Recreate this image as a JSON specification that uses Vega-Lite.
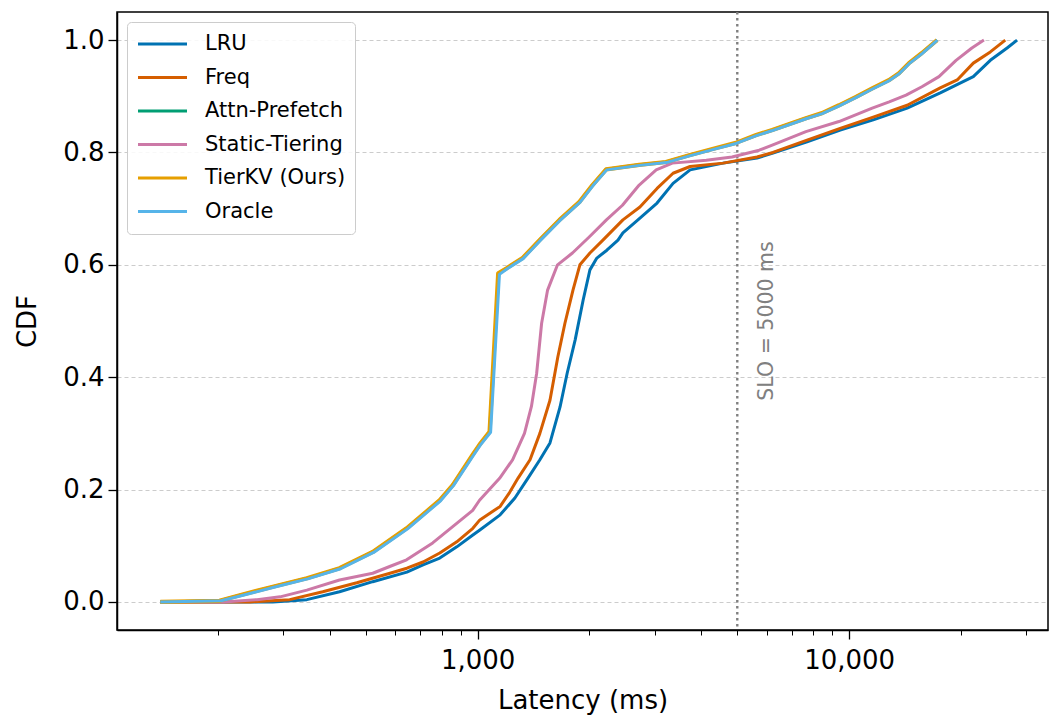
{
  "$schema": "https://vega.github.io/schema/vega-lite/v6.json",
  "width": 931,
  "height": 618,
  "autosize": {"type": "none"},
  "padding": {"left": 117, "top": 12, "right": 2, "bottom": 87},
  "background": "white",
  "config": {
    "font": "DejaVu Sans",
    "view": {"stroke": "black", "strokeWidth": 1.5},
    "axis": {
      "domainColor": "black", "domainWidth": 1.5, "tickColor": "black", "tickWidth": 1.3,
      "labelColor": "black", "titleColor": "black", "labelFont": "DejaVu Sans", "titleFont": "DejaVu Sans",
      "labelFontSize": 26, "titleFontSize": 26, "titleFontWeight": "normal"
    },
    "legend": {
      "orient": "top-left", "offset": 10, "symbolType": "stroke", "symbolSize": 2401,
      "symbolStrokeWidth": 3.2, "labelFontSize": 21, "labelFont": "DejaVu Sans", "labelColor": "black",
      "padding": 9, "rowPadding": 7.5, "clipHeight": 26, "labelOffset": 16,
      "strokeColor": "#cccccc", "fillColor": "rgba(255,255,255,0.85)", "cornerRadius": 4
    }
  },
  "datasets": {
    "cdf": [
      {"series": "LRU", "latency": 140, "cdf": 0},
      {"series": "LRU", "latency": 281, "cdf": 0.0},
      {"series": "LRU", "latency": 347, "cdf": 0.004},
      {"series": "LRU", "latency": 425, "cdf": 0.018},
      {"series": "LRU", "latency": 522, "cdf": 0.036},
      {"series": "LRU", "latency": 645, "cdf": 0.053},
      {"series": "LRU", "latency": 713, "cdf": 0.066},
      {"series": "LRU", "latency": 791, "cdf": 0.078},
      {"series": "LRU", "latency": 879, "cdf": 0.098},
      {"series": "LRU", "latency": 971, "cdf": 0.119},
      {"series": "LRU", "latency": 1014, "cdf": 0.128},
      {"series": "LRU", "latency": 1150, "cdf": 0.155},
      {"series": "LRU", "latency": 1260, "cdf": 0.185},
      {"series": "LRU", "latency": 1365, "cdf": 0.22},
      {"series": "LRU", "latency": 1471, "cdf": 0.253},
      {"series": "LRU", "latency": 1566, "cdf": 0.283},
      {"series": "LRU", "latency": 1667, "cdf": 0.347},
      {"series": "LRU", "latency": 1742, "cdf": 0.407},
      {"series": "LRU", "latency": 1830, "cdf": 0.466},
      {"series": "LRU", "latency": 1923, "cdf": 0.537},
      {"series": "LRU", "latency": 2006, "cdf": 0.591},
      {"series": "LRU", "latency": 2094, "cdf": 0.612},
      {"series": "LRU", "latency": 2228, "cdf": 0.626},
      {"series": "LRU", "latency": 2387, "cdf": 0.644},
      {"series": "LRU", "latency": 2461, "cdf": 0.657},
      {"series": "LRU", "latency": 2735, "cdf": 0.683},
      {"series": "LRU", "latency": 3041, "cdf": 0.71},
      {"series": "LRU", "latency": 3358, "cdf": 0.745},
      {"series": "LRU", "latency": 3733, "cdf": 0.769},
      {"series": "LRU", "latency": 4580, "cdf": 0.781},
      {"series": "LRU", "latency": 5650, "cdf": 0.79},
      {"series": "LRU", "latency": 6237, "cdf": 0.799},
      {"series": "LRU", "latency": 7704, "cdf": 0.819},
      {"series": "LRU", "latency": 9460, "cdf": 0.84},
      {"series": "LRU", "latency": 11610, "cdf": 0.858},
      {"series": "LRU", "latency": 14330, "cdf": 0.879},
      {"series": "LRU", "latency": 17590, "cdf": 0.906},
      {"series": "LRU", "latency": 21590, "cdf": 0.935},
      {"series": "LRU", "latency": 23990, "cdf": 0.964},
      {"series": "LRU", "latency": 26620, "cdf": 0.986},
      {"series": "LRU", "latency": 28320, "cdf": 1.0},

      {"series": "Freq", "latency": 140, "cdf": 0},
      {"series": "Freq", "latency": 244, "cdf": 0.0},
      {"series": "Freq", "latency": 312, "cdf": 0.004},
      {"series": "Freq", "latency": 383, "cdf": 0.018},
      {"series": "Freq", "latency": 473, "cdf": 0.034},
      {"series": "Freq", "latency": 581, "cdf": 0.051},
      {"series": "Freq", "latency": 645, "cdf": 0.06},
      {"series": "Freq", "latency": 713, "cdf": 0.071},
      {"series": "Freq", "latency": 791, "cdf": 0.087},
      {"series": "Freq", "latency": 879, "cdf": 0.107},
      {"series": "Freq", "latency": 971, "cdf": 0.131},
      {"series": "Freq", "latency": 1014, "cdf": 0.146},
      {"series": "Freq", "latency": 1150, "cdf": 0.17},
      {"series": "Freq", "latency": 1220, "cdf": 0.195},
      {"series": "Freq", "latency": 1284, "cdf": 0.22},
      {"series": "Freq", "latency": 1384, "cdf": 0.253},
      {"series": "Freq", "latency": 1471, "cdf": 0.3},
      {"series": "Freq", "latency": 1566, "cdf": 0.359},
      {"series": "Freq", "latency": 1644, "cdf": 0.436},
      {"series": "Freq", "latency": 1718, "cdf": 0.496},
      {"series": "Freq", "latency": 1806, "cdf": 0.555},
      {"series": "Freq", "latency": 1885, "cdf": 0.6},
      {"series": "Freq", "latency": 2006, "cdf": 0.621},
      {"series": "Freq", "latency": 2174, "cdf": 0.644},
      {"series": "Freq", "latency": 2461, "cdf": 0.68},
      {"series": "Freq", "latency": 2735, "cdf": 0.703},
      {"series": "Freq", "latency": 3041, "cdf": 0.736},
      {"series": "Freq", "latency": 3358, "cdf": 0.763},
      {"series": "Freq", "latency": 3733, "cdf": 0.775},
      {"series": "Freq", "latency": 4580, "cdf": 0.781},
      {"series": "Freq", "latency": 5650, "cdf": 0.792},
      {"series": "Freq", "latency": 6237, "cdf": 0.8},
      {"series": "Freq", "latency": 7704, "cdf": 0.822},
      {"series": "Freq", "latency": 9460, "cdf": 0.843},
      {"series": "Freq", "latency": 11610, "cdf": 0.863},
      {"series": "Freq", "latency": 14330, "cdf": 0.884},
      {"series": "Freq", "latency": 17590, "cdf": 0.915},
      {"series": "Freq", "latency": 19540, "cdf": 0.929},
      {"series": "Freq", "latency": 21590, "cdf": 0.959},
      {"series": "Freq", "latency": 23990, "cdf": 0.979},
      {"series": "Freq", "latency": 26320, "cdf": 1.0},

      {"series": "Attn-Prefetch", "latency": 140, "cdf": 0},
      {"series": "Attn-Prefetch", "latency": 202, "cdf": 0.002},
      {"series": "Attn-Prefetch", "latency": 229, "cdf": 0.012},
      {"series": "Attn-Prefetch", "latency": 281, "cdf": 0.027},
      {"series": "Attn-Prefetch", "latency": 347, "cdf": 0.042},
      {"series": "Attn-Prefetch", "latency": 425, "cdf": 0.06},
      {"series": "Attn-Prefetch", "latency": 522, "cdf": 0.089},
      {"series": "Attn-Prefetch", "latency": 644, "cdf": 0.131},
      {"series": "Attn-Prefetch", "latency": 791, "cdf": 0.181},
      {"series": "Attn-Prefetch", "latency": 857, "cdf": 0.208},
      {"series": "Attn-Prefetch", "latency": 970, "cdf": 0.262},
      {"series": "Attn-Prefetch", "latency": 1012, "cdf": 0.28},
      {"series": "Attn-Prefetch", "latency": 1077, "cdf": 0.303},
      {"series": "Attn-Prefetch", "latency": 1140, "cdf": 0.585},
      {"series": "Attn-Prefetch", "latency": 1197, "cdf": 0.594},
      {"series": "Attn-Prefetch", "latency": 1321, "cdf": 0.612},
      {"series": "Attn-Prefetch", "latency": 1468, "cdf": 0.644},
      {"series": "Attn-Prefetch", "latency": 1661, "cdf": 0.68},
      {"series": "Attn-Prefetch", "latency": 1880, "cdf": 0.712},
      {"series": "Attn-Prefetch", "latency": 2038, "cdf": 0.742},
      {"series": "Attn-Prefetch", "latency": 2218, "cdf": 0.77},
      {"series": "Attn-Prefetch", "latency": 2722, "cdf": 0.778},
      {"series": "Attn-Prefetch", "latency": 3212, "cdf": 0.783},
      {"series": "Attn-Prefetch", "latency": 3712, "cdf": 0.795},
      {"series": "Attn-Prefetch", "latency": 4284, "cdf": 0.806},
      {"series": "Attn-Prefetch", "latency": 4955, "cdf": 0.817},
      {"series": "Attn-Prefetch", "latency": 5620, "cdf": 0.831},
      {"series": "Attn-Prefetch", "latency": 6210, "cdf": 0.84},
      {"series": "Attn-Prefetch", "latency": 7650, "cdf": 0.861},
      {"series": "Attn-Prefetch", "latency": 8450, "cdf": 0.87},
      {"series": "Attn-Prefetch", "latency": 9390, "cdf": 0.884},
      {"series": "Attn-Prefetch", "latency": 10440, "cdf": 0.899},
      {"series": "Attn-Prefetch", "latency": 11540, "cdf": 0.914},
      {"series": "Attn-Prefetch", "latency": 12820, "cdf": 0.929},
      {"series": "Attn-Prefetch", "latency": 13620, "cdf": 0.941},
      {"series": "Attn-Prefetch", "latency": 14490, "cdf": 0.959},
      {"series": "Attn-Prefetch", "latency": 15700, "cdf": 0.977},
      {"series": "Attn-Prefetch", "latency": 17250, "cdf": 1.0},

      {"series": "Static-Tiering", "latency": 140, "cdf": 0},
      {"series": "Static-Tiering", "latency": 207, "cdf": 0.0},
      {"series": "Static-Tiering", "latency": 255, "cdf": 0.004},
      {"series": "Static-Tiering", "latency": 294, "cdf": 0.009},
      {"series": "Static-Tiering", "latency": 347, "cdf": 0.021},
      {"series": "Static-Tiering", "latency": 425, "cdf": 0.039},
      {"series": "Static-Tiering", "latency": 522, "cdf": 0.051},
      {"series": "Static-Tiering", "latency": 580, "cdf": 0.063},
      {"series": "Static-Tiering", "latency": 644, "cdf": 0.075},
      {"series": "Static-Tiering", "latency": 757, "cdf": 0.105},
      {"series": "Static-Tiering", "latency": 857, "cdf": 0.134},
      {"series": "Static-Tiering", "latency": 970, "cdf": 0.163},
      {"series": "Static-Tiering", "latency": 1012, "cdf": 0.181},
      {"series": "Static-Tiering", "latency": 1146, "cdf": 0.22},
      {"series": "Static-Tiering", "latency": 1242, "cdf": 0.253},
      {"series": "Static-Tiering", "latency": 1337, "cdf": 0.3},
      {"series": "Static-Tiering", "latency": 1396, "cdf": 0.348},
      {"series": "Static-Tiering", "latency": 1442, "cdf": 0.407},
      {"series": "Static-Tiering", "latency": 1487, "cdf": 0.496},
      {"series": "Static-Tiering", "latency": 1543, "cdf": 0.555},
      {"series": "Static-Tiering", "latency": 1641, "cdf": 0.6},
      {"series": "Static-Tiering", "latency": 1800, "cdf": 0.621},
      {"series": "Static-Tiering", "latency": 2000, "cdf": 0.65},
      {"series": "Static-Tiering", "latency": 2222, "cdf": 0.68},
      {"series": "Static-Tiering", "latency": 2454, "cdf": 0.706},
      {"series": "Static-Tiering", "latency": 2722, "cdf": 0.742},
      {"series": "Static-Tiering", "latency": 3025, "cdf": 0.769},
      {"series": "Static-Tiering", "latency": 3343, "cdf": 0.781},
      {"series": "Static-Tiering", "latency": 4126, "cdf": 0.786},
      {"series": "Static-Tiering", "latency": 4839, "cdf": 0.792},
      {"series": "Static-Tiering", "latency": 5727, "cdf": 0.804},
      {"series": "Static-Tiering", "latency": 6210, "cdf": 0.813},
      {"series": "Static-Tiering", "latency": 7650, "cdf": 0.837},
      {"series": "Static-Tiering", "latency": 9390, "cdf": 0.855},
      {"series": "Static-Tiering", "latency": 11540, "cdf": 0.879},
      {"series": "Static-Tiering", "latency": 12820, "cdf": 0.89},
      {"series": "Static-Tiering", "latency": 14230, "cdf": 0.902},
      {"series": "Static-Tiering", "latency": 15700, "cdf": 0.917},
      {"series": "Static-Tiering", "latency": 17450, "cdf": 0.935},
      {"series": "Static-Tiering", "latency": 19400, "cdf": 0.964},
      {"series": "Static-Tiering", "latency": 21400, "cdf": 0.986},
      {"series": "Static-Tiering", "latency": 23060, "cdf": 1.0},

      {"series": "TierKV (Ours)", "latency": 140, "cdf": 0},
      {"series": "TierKV (Ours)", "latency": 202, "cdf": 0.002},
      {"series": "TierKV (Ours)", "latency": 229, "cdf": 0.012},
      {"series": "TierKV (Ours)", "latency": 281, "cdf": 0.027},
      {"series": "TierKV (Ours)", "latency": 347, "cdf": 0.042},
      {"series": "TierKV (Ours)", "latency": 425, "cdf": 0.06},
      {"series": "TierKV (Ours)", "latency": 522, "cdf": 0.089},
      {"series": "TierKV (Ours)", "latency": 644, "cdf": 0.131},
      {"series": "TierKV (Ours)", "latency": 791, "cdf": 0.181},
      {"series": "TierKV (Ours)", "latency": 857, "cdf": 0.208},
      {"series": "TierKV (Ours)", "latency": 970, "cdf": 0.262},
      {"series": "TierKV (Ours)", "latency": 1012, "cdf": 0.28},
      {"series": "TierKV (Ours)", "latency": 1077, "cdf": 0.303},
      {"series": "TierKV (Ours)", "latency": 1136, "cdf": 0.585},
      {"series": "TierKV (Ours)", "latency": 1197, "cdf": 0.594},
      {"series": "TierKV (Ours)", "latency": 1321, "cdf": 0.612},
      {"series": "TierKV (Ours)", "latency": 1468, "cdf": 0.644},
      {"series": "TierKV (Ours)", "latency": 1661, "cdf": 0.68},
      {"series": "TierKV (Ours)", "latency": 1880, "cdf": 0.712},
      {"series": "TierKV (Ours)", "latency": 2038, "cdf": 0.742},
      {"series": "TierKV (Ours)", "latency": 2218, "cdf": 0.77},
      {"series": "TierKV (Ours)", "latency": 2722, "cdf": 0.778},
      {"series": "TierKV (Ours)", "latency": 3212, "cdf": 0.783},
      {"series": "TierKV (Ours)", "latency": 3712, "cdf": 0.795},
      {"series": "TierKV (Ours)", "latency": 4284, "cdf": 0.806},
      {"series": "TierKV (Ours)", "latency": 4955, "cdf": 0.817},
      {"series": "TierKV (Ours)", "latency": 5620, "cdf": 0.831},
      {"series": "TierKV (Ours)", "latency": 6210, "cdf": 0.84},
      {"series": "TierKV (Ours)", "latency": 7650, "cdf": 0.861},
      {"series": "TierKV (Ours)", "latency": 8450, "cdf": 0.87},
      {"series": "TierKV (Ours)", "latency": 9390, "cdf": 0.884},
      {"series": "TierKV (Ours)", "latency": 10440, "cdf": 0.899},
      {"series": "TierKV (Ours)", "latency": 11540, "cdf": 0.914},
      {"series": "TierKV (Ours)", "latency": 12820, "cdf": 0.929},
      {"series": "TierKV (Ours)", "latency": 13620, "cdf": 0.941},
      {"series": "TierKV (Ours)", "latency": 14490, "cdf": 0.959},
      {"series": "TierKV (Ours)", "latency": 15700, "cdf": 0.977},
      {"series": "TierKV (Ours)", "latency": 17250, "cdf": 1.0},

      {"series": "Oracle", "latency": 140, "cdf": 0},
      {"series": "Oracle", "latency": 204, "cdf": 0.002},
      {"series": "Oracle", "latency": 231, "cdf": 0.011},
      {"series": "Oracle", "latency": 283, "cdf": 0.026},
      {"series": "Oracle", "latency": 349, "cdf": 0.041},
      {"series": "Oracle", "latency": 428, "cdf": 0.059},
      {"series": "Oracle", "latency": 525, "cdf": 0.088},
      {"series": "Oracle", "latency": 648, "cdf": 0.13},
      {"series": "Oracle", "latency": 795, "cdf": 0.18},
      {"series": "Oracle", "latency": 861, "cdf": 0.207},
      {"series": "Oracle", "latency": 975, "cdf": 0.261},
      {"series": "Oracle", "latency": 1017, "cdf": 0.279},
      {"series": "Oracle", "latency": 1084, "cdf": 0.302},
      {"series": "Oracle", "latency": 1145, "cdf": 0.583},
      {"series": "Oracle", "latency": 1202, "cdf": 0.593},
      {"series": "Oracle", "latency": 1326, "cdf": 0.611},
      {"series": "Oracle", "latency": 1473, "cdf": 0.643},
      {"series": "Oracle", "latency": 1667, "cdf": 0.679},
      {"series": "Oracle", "latency": 1886, "cdf": 0.711},
      {"series": "Oracle", "latency": 2045, "cdf": 0.741},
      {"series": "Oracle", "latency": 2226, "cdf": 0.769},
      {"series": "Oracle", "latency": 2730, "cdf": 0.777},
      {"series": "Oracle", "latency": 3220, "cdf": 0.782},
      {"series": "Oracle", "latency": 3720, "cdf": 0.794},
      {"series": "Oracle", "latency": 4295, "cdf": 0.805},
      {"series": "Oracle", "latency": 4965, "cdf": 0.816},
      {"series": "Oracle", "latency": 5630, "cdf": 0.83},
      {"series": "Oracle", "latency": 6220, "cdf": 0.839},
      {"series": "Oracle", "latency": 7665, "cdf": 0.86},
      {"series": "Oracle", "latency": 8465, "cdf": 0.869},
      {"series": "Oracle", "latency": 9410, "cdf": 0.883},
      {"series": "Oracle", "latency": 10460, "cdf": 0.898},
      {"series": "Oracle", "latency": 11560, "cdf": 0.913},
      {"series": "Oracle", "latency": 12840, "cdf": 0.928},
      {"series": "Oracle", "latency": 13640, "cdf": 0.94},
      {"series": "Oracle", "latency": 14510, "cdf": 0.958},
      {"series": "Oracle", "latency": 15720, "cdf": 0.976},
      {"series": "Oracle", "latency": 17280, "cdf": 1.0}
    ],
    "slo": [{"slo": 5000}],
    "slolabel": [{"x": 6000, "y": 0.5, "label": "SLO = 5000 ms"}]
  },
  "layer": [
    {
      "data": {"name": "slo"},
      "mark": {"type": "rule", "stroke": "#7f7f7f", "strokeWidth": 2.4, "strokeDash": [2.4, 3.6]},
      "encoding": {
        "x": {
          "field": "slo", "type": "quantitative",
          "scale": {"type": "log", "domain": [107, 34300], "nice": false},
          "axis": {
            "orient": "bottom", "values": [1000, 10000], "format": ",", "title": "Latency (ms)",
            "tickSize": 9, "labelPadding": 8, "titlePadding": 14, "grid": false, "labelFlush": false, "labelOverlap": false
          }
        }
      }
    },
    {
      "data": {"name": "cdf"},
      "mark": {"type": "line", "interpolate": "linear", "strokeJoin": "round"},
      "encoding": {
        "x": {
          "field": "latency", "type": "quantitative",
          "scale": {"type": "log", "domain": [107, 34300], "nice": false},
          "axis": {
            "orient": "bottom",
            "values": [200, 300, 400, 500, 600, 700, 800, 900, 2000, 3000, 4000, 5000, 6000, 7000, 8000, 9000, 20000, 30000],
            "labels": false, "title": null, "tickSize": 5, "domain": false, "grid": false, "tickWidth": 1
          }
        },
        "y": {
          "field": "cdf", "type": "quantitative",
          "scale": {"domain": [-0.05, 1.05], "nice": false, "zero": false},
          "axis": {
            "values": [0, 0.2, 0.4, 0.6, 0.8, 1.0], "format": ".1f", "title": "CDF",
            "tickSize": 9, "labelPadding": 4, "titlePadding": 22,
            "grid": true, "gridColor": "#cccccc", "gridDash": [4, 3], "gridWidth": 1
          }
        },
        "color": {
          "field": "series", "type": "nominal",
          "scale": {
            "domain": ["LRU", "Freq", "Attn-Prefetch", "Static-Tiering", "TierKV (Ours)", "Oracle"],
            "range": ["#0072B2", "#D55E00", "#009E73", "#CC79A7", "#E69F00", "#56B4E9"]
          },
          "legend": {"title": null}
        },
        "strokeWidth": {
          "condition": {"test": "datum.series === 'TierKV (Ours)'", "value": 4.2},
          "value": 3
        }
      }
    },
    {
      "data": {"name": "slolabel"},
      "mark": {"type": "text", "angle": 270, "align": "center", "baseline": "middle", "fontSize": 20.5, "color": "#808080", "font": "DejaVu Sans"},
      "encoding": {
        "x": {"field": "x", "type": "quantitative", "axis": null},
        "y": {"field": "y", "type": "quantitative"},
        "text": {"field": "label"}
      }
    }
  ],
  "resolve": {"axis": {"x": "independent"}}
}
